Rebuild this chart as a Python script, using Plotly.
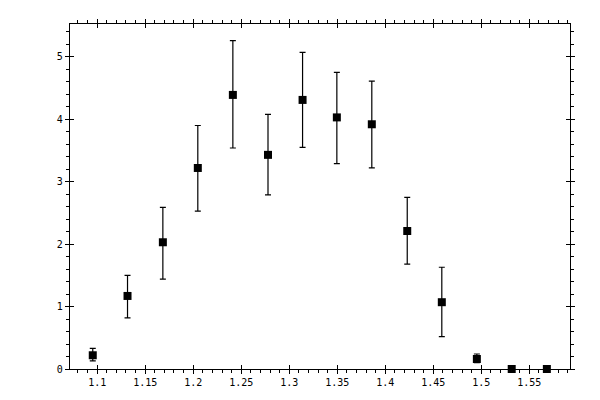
import plotly.graph_objects as go

x_vals = [1.0954, 1.1316, 1.1684, 1.2048, 1.2413, 1.2779, 1.3139,
          1.3496, 1.3860, 1.4229, 1.4589, 1.4954, 1.5317, 1.5683]
y_vals = [0.22, 1.17, 2.03, 3.22, 4.39, 3.43, 4.31,
          4.03, 3.92, 2.21, 1.07, 0.16, 0.0, 0.0]
err_hi = [0.11, 0.33, 0.56, 0.68, 0.87, 0.65, 0.76,
          0.72, 0.69, 0.54, 0.56, 0.08, 0.0, 0.0]
err_lo = [0.09, 0.35, 0.59, 0.69, 0.85, 0.64, 0.76,
          0.74, 0.70, 0.53, 0.55, 0.06, 0.0, 0.0]

x_range = [1.0717, 1.5924]
y_range = [0, 5.526]

fig = go.Figure(go.Scatter(
    x=x_vals, y=y_vals,
    mode='markers',
    marker={'symbol': 'square', 'size': 8, 'color': 'black'},
    error_y={'type': 'data', 'array': err_hi, 'arrayminus': err_lo,
             'color': 'black', 'thickness': 1.2, 'width': 3},
    cliponaxis=False,
    showlegend=False,
))

axis_common = dict(
    showgrid=False, zeroline=False,
    showline=True, linecolor='black', linewidth=1.2,
    mirror='allticks', ticks='outside', ticklen=4, tickwidth=1.2, tickcolor='black',
    tickfont={'family': 'DejaVu Sans Mono', 'size': 10, 'color': 'black'},
)

fig.update_xaxes(
    range=x_range, tick0=1.1, dtick=0.05,
    minor={'dtick': 0.01, 'tick0': 1.1, 'ticks': 'outside', 'ticklen': 3,
           'tickwidth': 1, 'tickcolor': 'black'},
    **axis_common,
)
fig.update_yaxes(
    range=y_range, tick0=0, dtick=1,
    minor={'dtick': 0.2, 'tick0': 0, 'ticks': 'outside', 'ticklen': 3,
           'tickwidth': 1, 'tickcolor': 'black'},
    **axis_common,
)

# extra overlay axes just to make the major ticks cross the frame (inward part)
inner = dict(showgrid=False, zeroline=False, showline=False, showticklabels=False,
             ticks='inside', ticklen=4, tickwidth=1.2, tickcolor='black', mirror='ticks')
fig.update_layout(
    xaxis2=dict(overlaying='x', anchor='y', range=x_range, tick0=1.1, dtick=0.05, **inner),
    yaxis2=dict(overlaying='y', anchor='x', range=y_range, tick0=0, dtick=1, **inner),
)
fig.add_trace(go.Scatter(x=[], y=[], xaxis='x2', yaxis='y2', showlegend=False))

# the page adds an 8px body margin, so the figure is a bit smaller than the window
fig.update_layout(
    width=592, height=392,
    margin={'l': 62, 'r': 30, 't': 11, 'b': 31},
    plot_bgcolor='white', paper_bgcolor='white',
)

fig.write_html("out.html")
